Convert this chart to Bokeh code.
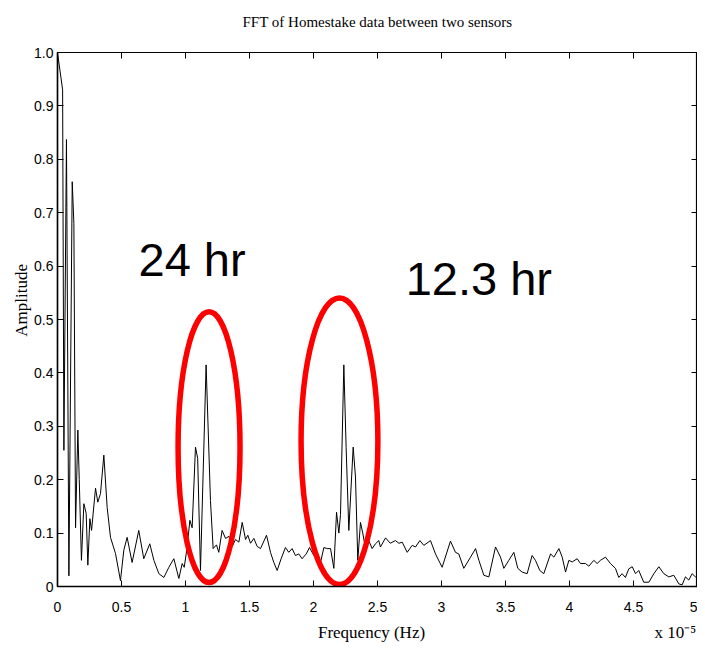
import math
from bokeh.plotting import figure
from bokeh.models import Range1d, LinearAxis, Label, FixedTicker, CustomJSTickFormatter
from bokeh.embed import file_html
from bokeh.resources import INLINE

# Frequency in units of 1e-5 Hz, amplitude normalised
freq = [0.000, 0.040, 0.050, 0.070, 0.073, 0.089, 0.115, 0.128, 0.141, 0.159, 0.170,
        0.187, 0.206, 0.224, 0.237, 0.253, 0.266, 0.297, 0.315, 0.336, 0.362, 0.388,
        0.414, 0.453, 0.492, 0.518, 0.544, 0.583, 0.635, 0.674, 0.721, 0.753, 0.792,
        0.831, 0.870, 0.909, 0.948, 0.974, 0.990, 1.013, 1.034, 1.052, 1.078, 1.095,
        1.117, 1.161, 1.195, 1.216, 1.242, 1.260, 1.286, 1.313, 1.339, 1.365, 1.391,
        1.417, 1.443, 1.469, 1.487, 1.508, 1.534, 1.560, 1.586, 1.633, 1.664, 1.690,
        1.716, 1.747, 1.781, 1.807, 1.833, 1.859, 1.885, 1.911, 1.943, 1.969, 2.003,
        2.029, 2.055, 2.081, 2.107, 2.133, 2.159, 2.180, 2.198, 2.211, 2.237, 2.255,
        2.276, 2.310, 2.328, 2.346, 2.367, 2.385, 2.406, 2.432, 2.458, 2.484, 2.510,
        2.523, 2.563, 2.600, 2.640, 2.667, 2.693, 2.732, 2.771, 2.797, 2.831, 2.862,
        2.914, 2.953, 3.005, 3.070, 3.109, 3.135, 3.174, 3.227, 3.266, 3.292, 3.331,
        3.370, 3.422, 3.461, 3.487, 3.526, 3.565, 3.596, 3.630, 3.669, 3.708, 3.734,
        3.768, 3.799, 3.852, 3.878, 3.917, 3.943, 3.969, 3.995, 4.021, 4.060, 4.086,
        4.125, 4.151, 4.190, 4.216, 4.242, 4.281, 4.320, 4.359, 4.385, 4.411, 4.437,
        4.463, 4.490, 4.516, 4.541, 4.580, 4.620, 4.659, 4.698, 4.737, 4.776, 4.815,
        4.854, 4.880, 4.906, 4.932, 4.958, 4.984, 5.000]
amp = [1.000, 0.930, 0.255, 0.837, 0.710, 0.020, 0.758, 0.680, 0.110, 0.293, 0.200,
       0.049, 0.155, 0.137, 0.040, 0.127, 0.105, 0.184, 0.158, 0.174, 0.246, 0.148,
       0.092, 0.062, 0.011, 0.068, 0.092, 0.045, 0.105, 0.052, 0.080, 0.049, 0.024,
       0.017, 0.036, 0.052, 0.015, 0.043, 0.036, 0.074, 0.124, 0.110, 0.261, 0.240,
       0.030, 0.415, 0.161, 0.071, 0.078, 0.064, 0.105, 0.090, 0.094, 0.075, 0.088,
       0.083, 0.120, 0.088, 0.096, 0.081, 0.090, 0.075, 0.071, 0.096, 0.064, 0.045,
       0.030, 0.052, 0.073, 0.064, 0.071, 0.058, 0.061, 0.052, 0.061, 0.073, 0.058,
       0.055, 0.045, 0.073, 0.071, 0.071, 0.034, 0.139, 0.100, 0.135, 0.415, 0.260,
       0.105, 0.261, 0.205, 0.049, 0.120, 0.100, 0.071, 0.086, 0.071, 0.080, 0.086,
       0.074, 0.091, 0.081, 0.086, 0.081, 0.083, 0.064, 0.077, 0.074, 0.086, 0.077,
       0.086, 0.061, 0.036, 0.085, 0.064, 0.061, 0.034, 0.055, 0.071, 0.049, 0.021,
       0.018, 0.074, 0.055, 0.034, 0.049, 0.064, 0.034, 0.027, 0.024, 0.058, 0.049,
       0.030, 0.024, 0.061, 0.055, 0.071, 0.055, 0.027, 0.049, 0.046, 0.052, 0.043,
       0.043, 0.038, 0.049, 0.043, 0.049, 0.055, 0.043, 0.034, 0.017, 0.024, 0.017,
       0.033, 0.037, 0.024, 0.030, 0.008, 0.008, 0.024, 0.037, 0.024, 0.018, 0.021,
       0.005, 0.003, 0.018, 0.012, 0.024, 0.018, 0.020]

x_ticks = [0, 0.5, 1, 1.5, 2, 2.5, 3, 3.5, 4, 4.5, 5]
x_tick_labels = ["0", "0.5", "1", "1.5", "2", "2.5", "3", "3.5", "4", "4.5", "5"]
y_ticks = [0, 0.1, 0.2, 0.3, 0.4, 0.5, 0.6, 0.7, 0.8, 0.9, 1.0]
y_tick_labels = ["0", "0.1", "0.2", "0.3", "0.4", "0.5", "0.6", "0.7", "0.8", "0.9", "1.0"]

# highlighted peaks (centre x, centre y, width, height) in data units
ell_x = [1.184, 2.203]
ell_y = [0.261, 0.272]
ell_w = [0.484, 0.600]
ell_h = [0.507, 0.537]

title_text = "FFT of Homestake data between two sensors"
x_label = "Frequency (Hz)"
y_label = "Amplitude"
scale_text = "x 10\u207b\u2075"
ann1 = "24 hr"
ann2 = "12.3 hr"

TICK_FONT = "Liberation Sans"
SERIF = "Liberation Serif"
NB = "\u00a0"

p = figure(frame_width=640, frame_height=534, output_backend="svg",
           toolbar_location=None, x_range=Range1d(0, 5), y_range=Range1d(0, 1),
           min_border_left=57, min_border_right=0, min_border_top=52,
           min_border_bottom=50, background_fill_color="white",
           border_fill_color="white")
p.grid.visible = False
p.outline_line_color = "black"
p.outline_line_width = 1.2

# an empty second line lifts the title away from the frame
p.title.text = title_text + "\n" + NB
p.title.align = "center"
p.title.text_font = SERIF
p.title.text_font_size = "15px"
p.title.text_font_style = "normal"
p.title.text_color = "black"
p.title.standoff = 14

for ax in (p.xaxis[0], p.yaxis[0]):
    ax.major_tick_in = 6
    ax.major_tick_out = 0
    ax.minor_tick_line_color = None
    ax.axis_line_color = "black"
    ax.axis_line_width = 1.5
    ax.major_tick_line_color = "black"
    ax.major_label_text_font = TICK_FONT
    ax.major_label_text_font_size = "14px"
    ax.major_label_text_color = "black"
    ax.axis_label_text_font = SERIF
    ax.axis_label_text_font_size = "17px"
    ax.axis_label_text_font_style = "normal"
    ax.axis_label_text_color = "black"

p.xaxis[0].ticker = FixedTicker(ticks=x_ticks)
p.xaxis[0].major_label_overrides = dict(zip(x_ticks, x_tick_labels))
p.xaxis[0].major_label_standoff = 15
# axis title and the x 10^-5 scale note share one line below the axis
p.xaxis[0].axis_label = NB * 61 + x_label + NB * 54 + scale_text
p.xaxis[0].axis_label_standoff = 8
p.yaxis[0].ticker = FixedTicker(ticks=y_ticks)
p.yaxis[0].major_label_overrides = dict(zip(y_ticks, y_tick_labels))
p.yaxis[0].major_label_standoff = 4
p.yaxis[0].axis_label = NB * 9 + y_label
p.yaxis[0].axis_label_standoff = 0

blank = CustomJSTickFormatter(code="return ''")
top = LinearAxis(ticker=FixedTicker(ticks=x_ticks), formatter=blank,
                 major_tick_in=6, major_tick_out=0, minor_tick_line_color=None,
                 major_label_standoff=0, axis_line_color="black",
                 major_label_text_font_size="1px")
right = LinearAxis(ticker=FixedTicker(ticks=y_ticks), formatter=blank,
                   major_tick_in=6, major_tick_out=0, minor_tick_line_color=None,
                   major_label_standoff=0, axis_line_color="black",
                   major_label_text_font_size="1px")
p.add_layout(top, "above")
p.add_layout(right, "right")

p.line(freq, amp, line_color="black", line_width=1)
p.ellipse(x=ell_x, y=ell_y, width=ell_w, height=ell_h, fill_color=None,
          line_color="#ff0000", line_width=5.5)

p.add_layout(Label(x=0.633, y=0.612, text=ann1, text_font="Liberation Sans",
                   text_font_size="47px", text_align="left", text_baseline="alphabetic",
                   text_color="black"))
p.add_layout(Label(x=2.72, y=0.576, text=ann2, text_font="Liberation Sans",
                   text_font_size="47px", text_align="left", text_baseline="alphabetic",
                   text_color="black"))

open("out.html", "w").write(file_html(p, INLINE))
